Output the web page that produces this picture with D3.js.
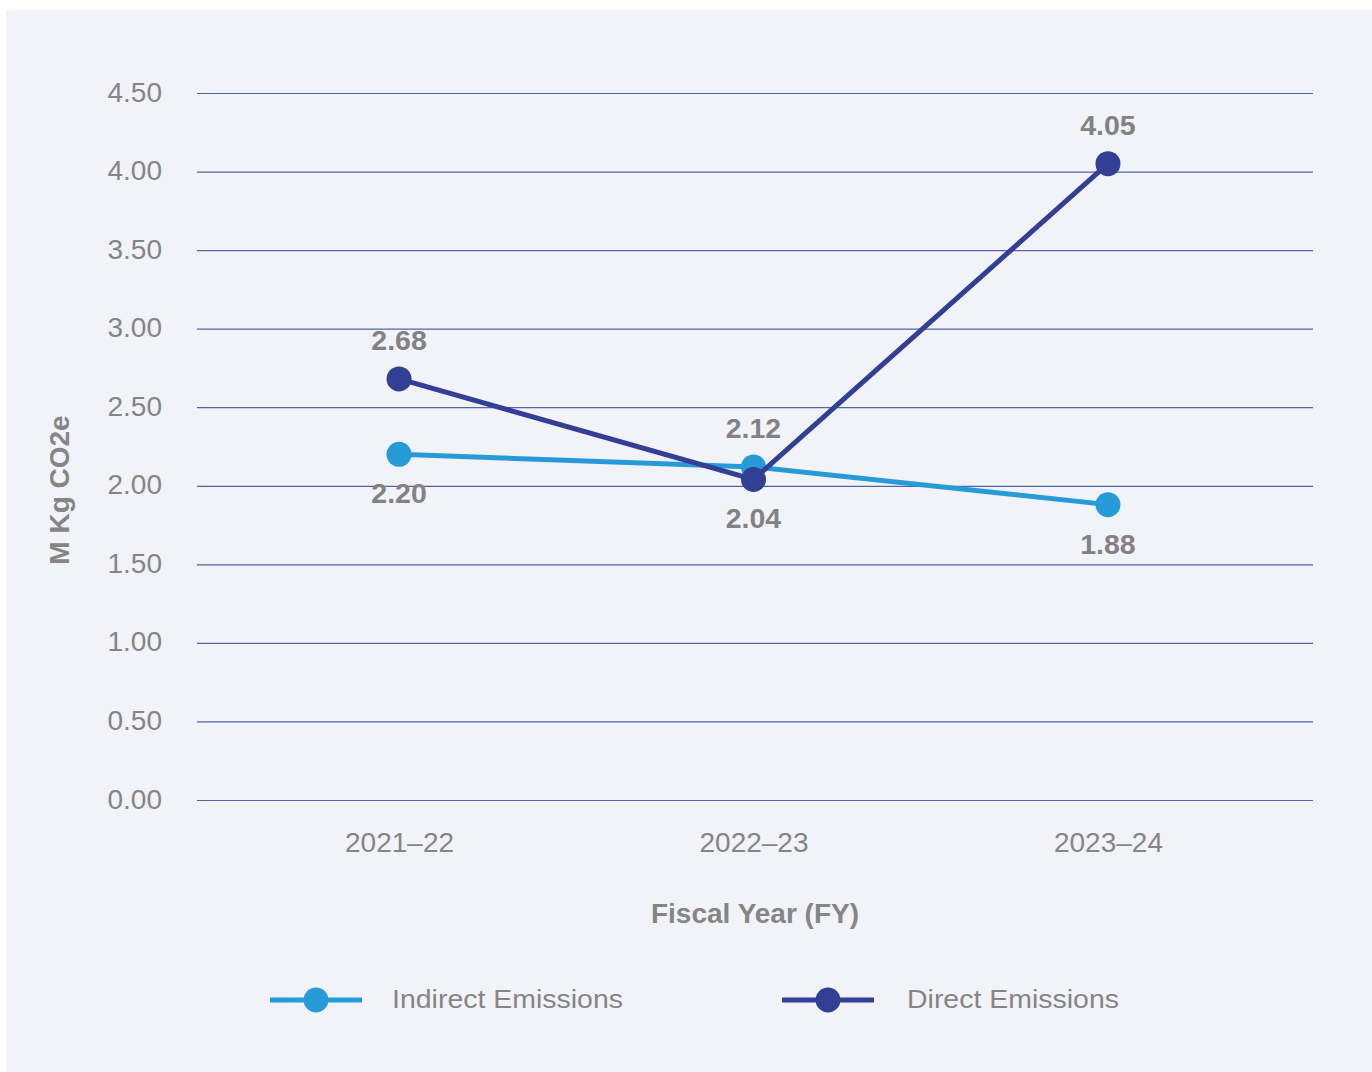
<!DOCTYPE html>
<html>
<head>
<meta charset="utf-8">
<script src="https://cdn.jsdelivr.net/npm/d3@7"></script>
<style>
  html, body { margin: 0; padding: 0; background: #ffffff; }
  svg { display: block; font-family: "Liberation Sans", Arial, sans-serif; }
</style>
</head>
<body>
<svg id="chart" width="1372" height="1072"></svg>
<script>
const categories = ["2021–22", "2022–23", "2023–24"];
const indirectValues = [2.20, 2.12, 1.88];
const directValues = [2.68, 2.04, 4.05];
const yTicks = [0, 0.5, 1, 1.5, 2, 2.5, 3, 3.5, 4, 4.5];
const seriesNames = ["Indirect Emissions", "Direct Emissions"];
const seriesColors = ["#279bd7", "#333f94"];

const svg = d3.select("#chart");
svg.append("rect").attr("x", 6).attr("y", 10).attr("width", 1366).attr("height", 1062).attr("fill", "#f2f3f8");

const x = d3.scalePoint().domain(categories).range([197, 1310]).padding(0.57);
const y = d3.scaleLinear().domain([0, 4.5]).range([800, 93]);

// grid + y labels
const yAxis = d3.axisLeft(y).tickValues(yTicks).tickSize(-(1313 - 197)).tickPadding(35).tickFormat(d3.format(".2f"));
const gy = svg.append("g").attr("transform", "translate(197,0)").call(yAxis);
gy.select(".domain").remove();
gy.selectAll(".tick line").attr("stroke", "#5461ad").attr("stroke-width", 1.2);
gy.selectAll(".tick text").attr("fill", "#858585").attr("font-size", 28).attr("dy", 8);

// x labels
const xAxis = d3.axisBottom(x).tickSize(0).tickPadding(32);
const gx = svg.append("g").attr("transform", "translate(0,800)").call(xAxis);
gx.select(".domain").remove();
gx.selectAll(".tick text").attr("fill", "#858585").attr("font-size", 28).attr("dy", "0.72em");

// axis titles
svg.append("text").attr("x", 755).attr("y", 923).attr("text-anchor", "middle")
  .attr("font-size", 28).attr("font-weight", "bold").attr("fill", "#858585").text("Fiscal Year (FY)");
svg.append("text").attr("transform", "translate(69,490) rotate(-90)").attr("text-anchor", "middle")
  .attr("font-size", 28).attr("font-weight", "bold").attr("fill", "#858585").text("M Kg CO2e");

const series = [indirectValues, directValues];
const line = d3.line().x((d, i) => x(categories[i])).y(d => y(d));

series.forEach((vals, s) => {
  const other = series[1 - s];
  svg.append("path").datum(vals).attr("d", line).attr("fill", "none")
    .attr("stroke", seriesColors[s]).attr("stroke-width", 5);
  svg.selectAll(null).data(vals).enter().append("circle")
    .attr("cx", (d, i) => x(categories[i])).attr("cy", d => y(d)).attr("r", 12.5)
    .attr("fill", seriesColors[s]);
  svg.selectAll(null).data(vals).enter().append("text")
    .attr("x", (d, i) => x(categories[i]))
    .attr("y", (d, i) => d > other[i] ? y(d) - 29 : y(d) + 49)
    .attr("text-anchor", "middle").attr("font-size", 28.5).attr("font-weight", "bold")
    .attr("fill", "#828282").text(d => d.toFixed(2));
});

// legend
const legendX = [316, 828];
const legendTextDx = [76, 79];
seriesNames.forEach((name, s) => {
  const g = svg.append("g").attr("transform", `translate(${legendX[s]},1000)`);
  g.append("line").attr("x1", -46).attr("x2", 46).attr("stroke", seriesColors[s]).attr("stroke-width", 5);
  g.append("circle").attr("r", 12.5).attr("fill", seriesColors[s]);
  g.append("text").attr("x", legendTextDx[s]).attr("y", 8).attr("font-size", 26.5).attr("fill", "#858585")
    .attr("textLength", s === 0 ? 231 : 212).attr("lengthAdjust", "spacingAndGlyphs").text(name);
});
</script>
</body>
</html>
